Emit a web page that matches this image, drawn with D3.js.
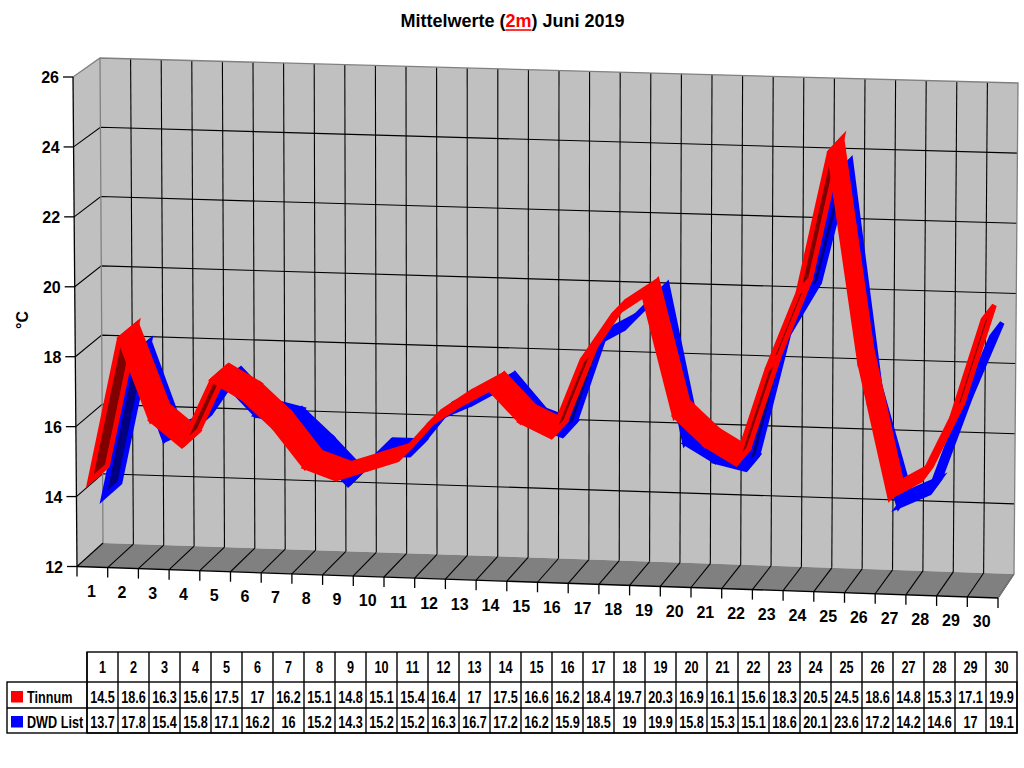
<!DOCTYPE html>
<html><head><meta charset="utf-8">
<script src="https://cdn.jsdelivr.net/npm/d3@7/dist/d3.min.js"></script>
<style>body{margin:0;background:#fff}svg{display:block}</style>
</head><body>
<svg id="chart" width="1024" height="768"></svg>
<script>
// ---- data ----
const days = [1,2,3,4,5,6,7,8,9,10,11,12,13,14,15,16,17,18,19,20,21,22,23,24,25,26,27,28,29,30];
const tinnum = [14.5,18.6,16.3,15.6,17.5,17,16.2,15.1,14.8,15.1,15.4,16.4,17,17.5,16.6,16.2,18.4,19.7,20.3,16.9,16.1,15.6,18.3,20.5,24.5,18.6,14.8,15.3,17.1,19.9];
const dwdList = [13.7,17.8,15.4,15.8,17.1,16.2,16,15.2,14.3,15.2,15.2,16.3,16.7,17.2,16.2,15.9,18.5,19,19.9,15.8,15.3,15.1,18.6,20.1,23.6,17.2,14.2,14.6,17,19.1];
const seriesNames = ["Tinnum","DWD List"];
const seriesColors = ["#ff0000","#0000ff"];
const seriesDark = ["#800000","#000080"];
const yTicks = [12,14,16,18,20,22,24,26];
const titleParts = ["Mittelwerte (","2m",") Juni 2019"];
const yTitle = "°C";

// ---- projection (front plane z=0, back wall z=1) ----
const F = {BL:[77,566.5], BR:[998,598], TL:[73,77], TR:[1001,103]};
const B = {BL:[103,543], BR:[1014,574], TL:[100,58], TR:[1018,83]};
const xBand = d3.scaleBand().domain(days).range([0,1]).padding(0);
const yScale = d3.scaleLinear().domain([12,26]).range([0,1]);
function bil(Q,u,t){
  const bx=Q.BL[0]+(Q.BR[0]-Q.BL[0])*u, by=Q.BL[1]+(Q.BR[1]-Q.BL[1])*u;
  const tx=Q.TL[0]+(Q.TR[0]-Q.TL[0])*u, ty=Q.TL[1]+(Q.TR[1]-Q.TL[1])*u;
  return [bx+(tx-bx)*t, by+(ty-by)*t];
}
function P(u,v,z){
  const t=yScale(v); const f=bil(F,u,t), b=bil(B,u,t);
  return [f[0]+(b[0]-f[0])*z, f[1]+(b[1]-f[1])*z];
}
const uC = d => xBand(d)+xBand.bandwidth()/2;
const line = d3.line();
const svg = d3.select("#chart");
const FONT = "'Liberation Sans', Arial, sans-serif";

// ---- walls ----
const vMin = yTicks[0], vMax = yTicks[yTicks.length-1];
svg.append("path").attr("d", line([P(0,vMin,0),P(0,vMax,0),P(0,vMax,1),P(0,vMin,1)])+"Z").attr("fill","#c0c0c0");
svg.append("path").attr("d", line([P(0,vMin,1),P(1,vMin,1),P(1,vMax,1),P(0,vMax,1)])+"Z").attr("fill","#c0c0c0");
svg.append("path").attr("d", line([P(0,vMin,0),P(1,vMin,0),P(1,vMin,1),P(0,vMin,1)])+"Z").attr("fill","#808080");

const grid = svg.append("g").attr("stroke","#000").attr("stroke-width",1.1).attr("fill","none");
yTicks.slice(1,-1).forEach(v=>{
  grid.append("path").attr("d", line([P(0,v,0),P(0,v,1),P(1,v,1)]));
});
const bounds = d3.range(0, days.length+1).map(i=> i/days.length);
bounds.forEach((u,i)=>{
  if(i>0 && i<days.length) grid.append("path").attr("d", line([P(u,vMin,1),P(u,vMax,1)]));
  grid.append("path").attr("d", line([P(u,vMin,0),P(u,vMin,1)]));
});
const edges = svg.append("g").attr("stroke","#808080").attr("stroke-width",1.3).attr("fill","none");
edges.append("path").attr("d", line([P(0,vMax,0),P(0,vMax,1),P(1,vMax,1),P(1,vMin,1)]));
edges.append("path").attr("d", line([P(0,vMin,1),P(0,vMax,1)]));
edges.append("path").attr("d", line([P(1,vMin,0),P(1,vMin,1)]));

// ---- ribbons ----
function ribbon(vals, z0, z1, color, dark){
  const g = svg.append("g");
  for(let i=0;i<vals.length-1;i++){
    const u0=uC(days[i]), u1=uC(days[i+1]);
    const A=P(u0,vals[i],z0), Bq=P(u1,vals[i+1],z0), C=P(u1,vals[i+1],z1), D=P(u0,vals[i],z1);
    const cross=(Bq[0]-A[0])*(D[1]-A[1])-(Bq[1]-A[1])*(D[0]-A[0]);
    g.append("path").attr("d", line([A,Bq,C,D])+"Z")
      .attr("fill", cross>0?dark:color).attr("stroke",color)
      .attr("stroke-width",5).attr("stroke-linejoin","miter").attr("stroke-miterlimit",4);
  }
}
ribbon(dwdList, 0.45, 1.08, seriesColors[1], seriesDark[1]);
ribbon(tinnum, -0.07, 0.6, seriesColors[0], seriesDark[0]);

// ---- axes ----
const ax = svg.append("g").attr("stroke","#000").attr("stroke-width",1.3).attr("fill","none");
ax.append("path").attr("d", line([P(0,vMin,0),P(0,vMax,0)]));
ax.append("path").attr("d", line([P(0,vMin,0),P(1,vMin,0)]));
yTicks.forEach(v=>{
  const p=P(0,v,0);
  ax.append("path").attr("d", line([[p[0]-10,p[1]],p]));
  svg.append("text").attr("x",p[0]-14).attr("y",p[1]+6).attr("text-anchor","end")
    .attr("font-family",FONT).attr("font-weight","bold").attr("font-size",16).text(v);
});
bounds.forEach(u=>{
  const p=P(u,vMin,0);
  ax.append("path").attr("d", line([p,[p[0],p[1]+10]]));
});
days.forEach(d=>{
  const p=P(uC(d),vMin,0);
  svg.append("text").attr("x",p[0]-1).attr("y",p[1]+30).attr("text-anchor","middle")
    .attr("font-family",FONT).attr("font-weight","bold").attr("font-size",16).text(d);
});
svg.append("text").attr("transform","translate(28,320) rotate(-90)").attr("text-anchor","middle")
  .attr("font-family",FONT).attr("font-weight","bold").attr("font-size",16).text(yTitle);

// ---- title ----
const title = svg.append("text").attr("x",512.5).attr("y",27).attr("text-anchor","middle")
  .attr("font-family",FONT).attr("font-weight","bold").attr("font-size",18);
title.append("tspan").text(titleParts[0]);
title.append("tspan").attr("fill","#ff0000").text(titleParts[1]);
title.append("tspan").text(titleParts[2]);
try{
  const tn=title.node();
  const s=tn.getExtentOfChar(titleParts[0].length), e=tn.getExtentOfChar(titleParts[0].length+titleParts[1].length-1);
  svg.append("line").attr("x1",s.x).attr("x2",e.x+e.width).attr("y1",30).attr("y2",30)
    .attr("stroke","#ff0000").attr("stroke-width",1.6);
}catch(err){}

// ---- data table ----
const tX0=87, tX1=1017, tY=[652,682,708,733], lX=7;
const colX = d3.scaleBand().domain(days).range([tX0,tX1]);
const tg = svg.append("g").attr("stroke","#000").attr("stroke-width",1.4).attr("fill","none");
tg.append("rect").attr("x",tX0).attr("y",tY[0]).attr("width",tX1-tX0).attr("height",tY[3]-tY[0]);
tg.append("rect").attr("x",lX).attr("y",tY[1]).attr("width",tX1-lX).attr("height",tY[3]-tY[1]);
tg.append("line").attr("x1",lX).attr("x2",tX1).attr("y1",tY[2]).attr("y2",tY[2]);
const SX = 0.79;
function cellText(x,y,txt,anchor){
  return svg.append("text").attr("transform",`translate(${x},${y}) scale(${SX},1)`)
    .attr("text-anchor",anchor||"middle").attr("font-family",FONT).attr("font-weight","bold")
    .attr("font-size",16).text(txt);
}
days.forEach(d=>{
  tg.append("line").attr("x1",colX(d)).attr("x2",colX(d)).attr("y1",tY[0]).attr("y2",tY[3]);
  cellText(colX(d)+colX.bandwidth()/2, 672.5, d);
});
[tinnum, dwdList].forEach((vals,si)=>{
  const yb = si===0?703:728;
  svg.append("rect").attr("x",11).attr("y",yb-12).attr("width",12).attr("height",11.5).attr("fill",seriesColors[si]);
  cellText(27, yb, seriesNames[si], "start");
  vals.forEach((v,i)=>{
    cellText(colX(days[i])+colX.bandwidth()/2, yb, String(v));
  });
});
</script>
</body></html>
